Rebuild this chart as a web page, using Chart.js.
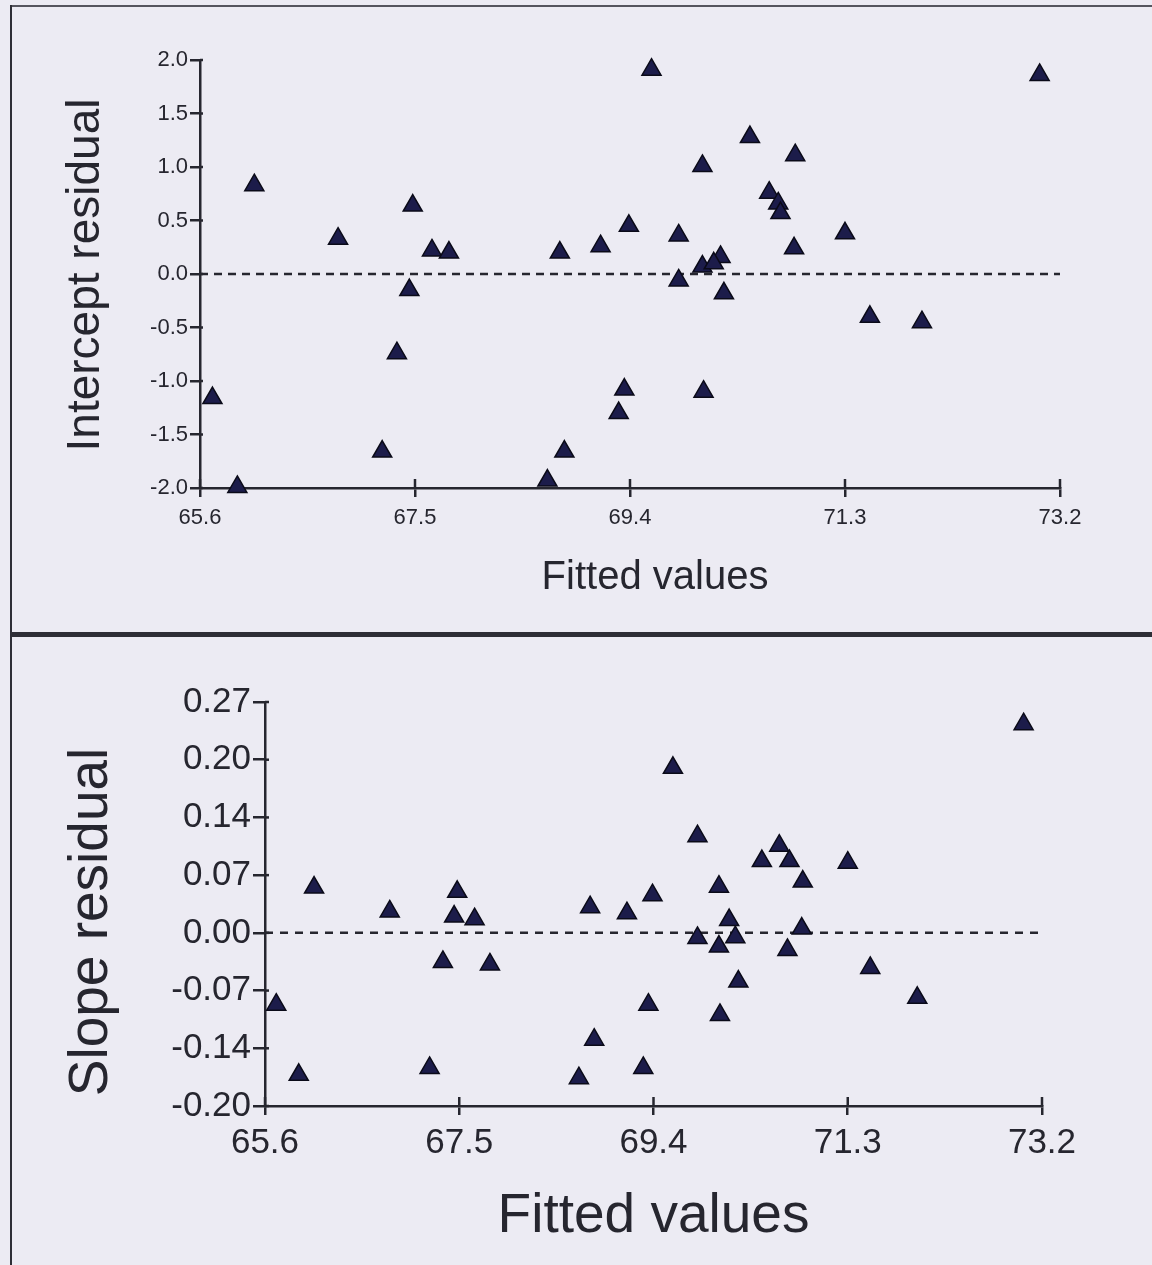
<!DOCTYPE html>
<html>
<head>
<meta charset="utf-8">
<script src="https://cdn.jsdelivr.net/npm/chart.js@4.4.1/dist/chart.umd.min.js"></script>
<style>
  html, body { margin: 0; padding: 0; background: #ecebf3; }
  body { width: 1152px; height: 1265px; position: relative; overflow: hidden; }
  .panel { position: absolute; }
  #topBox { left: 0; top: 0; width: 1152px; height: 632px; }
  #botBox { left: 0; top: 637px; width: 1152px; height: 628px; }
  .rule { position: absolute; background: #2e2e36; }
</style>
</head>
<body>
<div class="rule" style="left:10px;top:5px;width:1142px;height:2px;background:#55555e"></div>
<div class="rule" style="left:10px;top:5px;width:2px;height:1260px"></div>
<div class="rule" style="left:10px;top:632px;width:1142px;height:5px"></div>
<div class="panel" id="topBox"><canvas id="interceptChart" width="1152" height="632"></canvas></div>
<div class="panel" id="botBox"><canvas id="slopeChart" width="1152" height="628"></canvas></div>
<script>
// fitted values shared by both residual plots
const fittedValues = [66.08, 67.48, 66.82, 67.65, 67.80, 68.78, 67.45, 69.59, 73.02, 70.46,
                      70.86, 70.04, 70.63, 70.71, 70.73, 69.39, 71.30, 69.83, 69.14, 70.85,
                      70.20, 70.04, 70.14, 69.83, 70.23, 71.52, 71.98, 69.35, 70.05, 69.30,
                      67.34, 65.71, 67.21, 68.82, 65.93, 68.67];
const interceptResid = [0.83, 0.64, 0.33, 0.22, 0.20, 0.20, -0.15, 1.91, 1.86, 1.28,
                        1.11, 1.01, 0.76, 0.66, 0.57, 0.45, 0.38, 0.36, 0.26, 0.24,
                        0.16, 0.07, 0.10, -0.06, -0.18, -0.40, -0.45, -1.08, -1.10, -1.30,
                        -0.74, -1.16, -1.66, -1.66, -1.99, -1.93];
const slopeResid = [0.053, 0.048, 0.025, 0.016, -0.037, 0.030, 0.019, 0.193, 0.244, 0.084,
                    0.060, 0.054, 0.102, -0.020, 0.084, 0.044, 0.082, 0.113, 0.023, 0.005,
                    -0.005, -0.016, 0.015, -0.006, -0.057, -0.041, -0.076, -0.084, -0.096, -0.158,
                    -0.034, -0.084, -0.158, -0.125, -0.166, -0.170];

const fittedTicks = [65.6, 67.5, 69.4, 71.3, 73.2];
const interceptTicks = [-2.0, -1.5, -1.0, -0.5, 0.0, 0.5, 1.0, 1.5, 2.0];
const slopeTicks = [-0.2025, -0.135, -0.0675, 0, 0.0675, 0.135, 0.2025, 0.27];
const slopeTickLabels = ["-0.20", "-0.14", "-0.07", "0.00", "0.07", "0.14", "0.20", "0.27"];
const zeroLineX = [65.6, 73.2];

const INK = "#26262f";
const FONT = "'Liberation Sans', Arial, sans-serif";

// short tick marks on the inner side of the axes
const innerTicks = {
  id: "innerTicks",
  afterDatasetsDraw(chart, args, opts) {
    const ctx = chart.ctx, xs = chart.scales.x, ys = chart.scales.y;
    ctx.save();
    ctx.strokeStyle = INK;
    ctx.lineWidth = opts.width;
    xs.ticks.forEach(t => {
      const px = xs.getPixelForValue(t.value);
      ctx.beginPath(); ctx.moveTo(px, xs.top); ctx.lineTo(px, xs.top - opts.x); ctx.stroke();
    });
    ys.ticks.forEach(t => {
      const py = ys.getPixelForValue(t.value);
      ctx.beginPath(); ctx.moveTo(ys.right, py); ctx.lineTo(ys.right + opts.y, py); ctx.stroke();
    });
    ctx.restore();
  }
};

// axis titles, drawn by hand so they can sit a little off the axis centre like the scan
const axisTitles = {
  id: "axisTitles",
  afterDraw(chart, args, o) {
    const ctx = chart.ctx, a = chart.chartArea;
    ctx.save();
    ctx.fillStyle = INK;
    ctx.textAlign = "center";
    ctx.textBaseline = "middle";
    ctx.font = `${o.xSize}px ${FONT}`;
    ctx.fillText(o.xText, (a.left + a.right) / 2 + o.xDx, o.xY);
    ctx.translate(o.yX, (a.top + a.bottom) / 2 + o.yDy);
    ctx.rotate(-Math.PI / 2);
    ctx.font = `${o.ySize}px ${FONT}`;
    ctx.fillText(o.yText, 0, 0);
    ctx.restore();
  }
};

function makeChart(id, yData, cfg) {
  const pts = fittedValues.map((x, i) => ({ x, y: yData[i] }));
  const zero = zeroLineX.map(x => ({ x, y: 0 }));
  return new Chart(document.getElementById(id), {
    type: "scatter",
    data: {
      datasets: [
        { type: "line", data: zero, borderColor: INK, borderWidth: cfg.dashW, borderDash: cfg.dash,
          pointRadius: 0, fill: false, order: 2 },
        { data: pts, pointStyle: "triangle", pointRadius: cfg.r, pointHoverRadius: cfg.r,
          backgroundColor: "#1c1c4a", borderColor: "#0a0a18", borderWidth: 1.5, clip: false, order: 1 }
      ]
    },
    options: {
      responsive: false,
      animation: false,
      layout: { padding: cfg.pad },
      plugins: {
        legend: { display: false }, tooltip: { enabled: false },
        innerTicks: { x: cfg.inX, y: cfg.inY, width: cfg.axisW },
        axisTitles: cfg.titles
      },
      scales: {
        x: {
          type: "linear", min: 65.6, max: 73.2,
          afterBuildTicks: s => { s.ticks = fittedTicks.map(v => ({ value: v })); },
          afterFit: s => { s.height = cfg.xH; },
          border: { color: INK, width: cfg.axisW },
          grid: { drawOnChartArea: false, color: INK, lineWidth: cfg.axisW, tickLength: cfg.tickX },
          ticks: { color: INK, font: { family: FONT, size: cfg.tickFont }, padding: cfg.xPad,
                   maxRotation: 0, autoSkip: false, callback: v => v.toFixed(1) }
        },
        y: {
          type: "linear", min: cfg.yMin, max: cfg.yMax,
          afterBuildTicks: s => { s.ticks = cfg.yTicks.map(v => ({ value: v })); },
          afterFit: s => { s.width = cfg.yW; },
          border: { color: INK, width: cfg.axisW },
          grid: { drawOnChartArea: false, color: INK, lineWidth: cfg.axisW, tickLength: cfg.tickY },
          ticks: { color: INK, font: { family: FONT, size: cfg.tickFont }, padding: 2,
                   autoSkip: false, callback: cfg.yLabel }
        }
      }
    },
    plugins: [innerTicks, axisTitles]
  });
}

makeChart("interceptChart", interceptResid, {
  pad: { left: 0, right: 92, top: 60, bottom: 0 },
  xH: 144, yW: 200, yMin: -2, yMax: 2, yTicks: interceptTicks,
  yLabel: v => v.toFixed(1),
  titles: { xText: "Fitted values", xSize: 40, xDx: 25, xY: 578,
            yText: "Intercept residual", ySize: 46, yX: 86, yDy: 1 },
  tickFont: 22, tickX: 9, tickY: 10, inX: 9, inY: 3, xPad: 8, axisW: 2.5,
  dash: [8, 6], dashW: 2.5, r: 11
});

makeChart("slopeChart", slopeResid, {
  pad: { left: 0, right: 110, top: 65, bottom: 0 },
  xH: 159, yW: 265, yMin: -0.2025, yMax: 0.27, yTicks: slopeTicks,
  yLabel: (v, i) => slopeTickLabels[i],
  titles: { xText: "Fitted values", xSize: 55, xDx: 0, xY: 580,
            yText: "Slope residual", ySize: 55, yX: 92, yDy: 18 },
  tickFont: 35, tickX: 9, tickY: 12, inX: 9, inY: 4, xPad: 7, axisW: 2.5,
  dash: [8, 7], dashW: 2.5, r: 11
});
</script>
</body>
</html>
